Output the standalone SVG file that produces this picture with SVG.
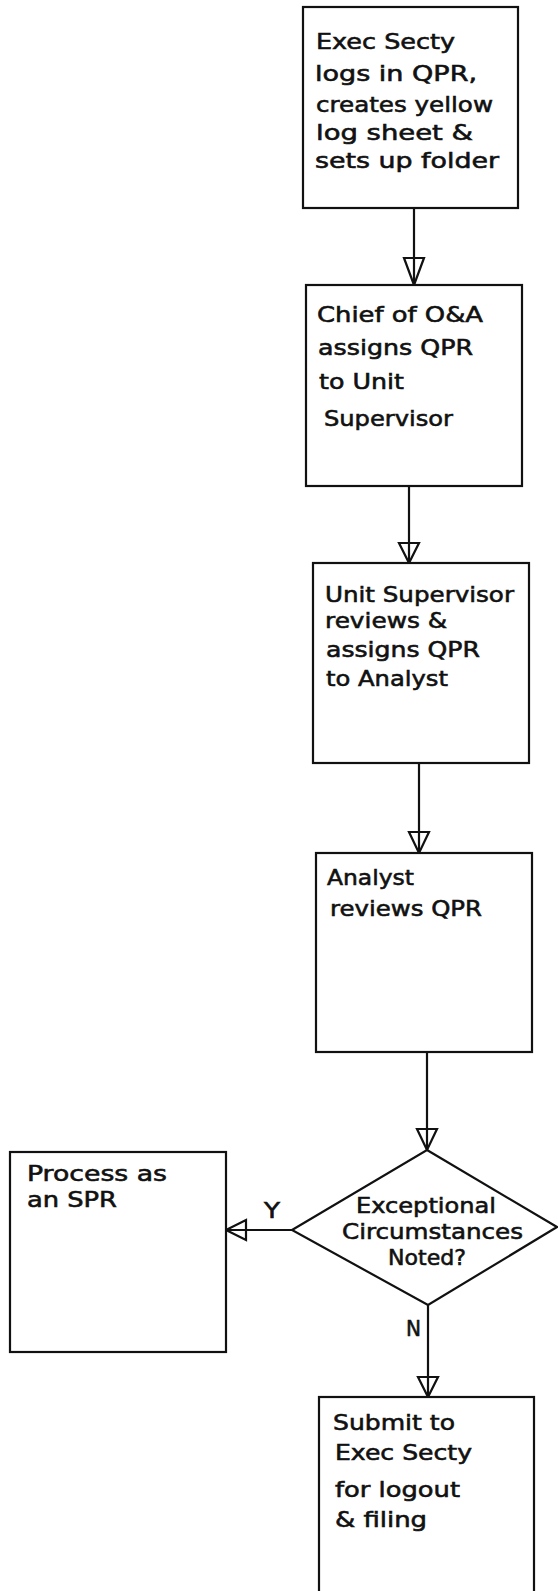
<svg xmlns="http://www.w3.org/2000/svg" width="558" height="1591" viewBox="0 0 558 1591">
  <style>
    .box { fill: #fff; stroke: #111; stroke-width: 2.2; }
    .line { fill: none; stroke: #111; stroke-width: 2.2; }
    .head { fill: none; stroke: #111; stroke-width: 2.2; stroke-linejoin: miter; }
    text { font-family: "DejaVu Sans", "Liberation Sans", sans-serif; font-size: 22px; fill: #111; stroke: #111; stroke-width: 0.6; }
  </style>
  <rect width="558" height="1591" fill="#fff"/>

  <!-- connectors: line runs through to the tip of an open triangle head -->
  <g id="connectors">
    <path class="line" d="M414 208 V285"/>
    <path class="head" d="M404 258 H424 L414 285 Z"/>

    <path class="line" d="M409 486 V563"/>
    <path class="head" d="M399 543 H419 L409 563 Z"/>

    <path class="line" d="M419 763 V853"/>
    <path class="head" d="M409 832 H429 L419 853 Z"/>

    <path class="line" d="M427 1052 V1150"/>
    <path class="head" d="M417 1129 H437 L427 1150 Z"/>

    <path class="line" d="M292 1230 H226"/>
    <path class="head" d="M246 1220 V1240 L226 1230 Z"/>

    <path class="line" d="M428 1305 V1397"/>
    <path class="head" d="M418 1377 H438 L428 1397 Z"/>

    <text x="264" y="1218" textLength="16" lengthAdjust="spacingAndGlyphs">Y</text>
    <text x="406" y="1336" textLength="15" lengthAdjust="spacingAndGlyphs">N</text>
  </g>

  <g id="log-in">
    <rect class="box" x="303" y="7" width="215" height="201"/>
    <text x="316" y="49" textLength="139" lengthAdjust="spacingAndGlyphs">Exec Secty</text>
    <text x="315" y="81" textLength="162" lengthAdjust="spacingAndGlyphs">logs in QPR,</text>
    <text x="316" y="112" textLength="177" lengthAdjust="spacingAndGlyphs">creates yellow</text>
    <text x="316" y="140" textLength="157" lengthAdjust="spacingAndGlyphs">log sheet &amp;</text>
    <text x="315" y="168" textLength="184" lengthAdjust="spacingAndGlyphs">sets up folder</text>
  </g>

  <g id="chief-assigns">
    <rect class="box" x="306" y="285" width="216" height="201"/>
    <text x="317" y="322" textLength="166" lengthAdjust="spacingAndGlyphs">Chief of O&amp;A</text>
    <text x="318" y="355" textLength="155" lengthAdjust="spacingAndGlyphs">assigns QPR</text>
    <text x="319" y="389" textLength="85" lengthAdjust="spacingAndGlyphs">to Unit</text>
    <text x="324" y="426" textLength="129" lengthAdjust="spacingAndGlyphs">Supervisor</text>
  </g>

  <g id="supervisor-reviews">
    <rect class="box" x="313" y="563" width="216" height="200"/>
    <text x="325" y="602" textLength="189" lengthAdjust="spacingAndGlyphs">Unit Supervisor</text>
    <text x="325" y="628" textLength="122" lengthAdjust="spacingAndGlyphs">reviews &amp;</text>
    <text x="326" y="657" textLength="154" lengthAdjust="spacingAndGlyphs">assigns QPR</text>
    <text x="326" y="686" textLength="122" lengthAdjust="spacingAndGlyphs">to Analyst</text>
  </g>

  <g id="analyst-reviews">
    <rect class="box" x="316" y="853" width="216" height="199"/>
    <text x="327" y="885" textLength="87" lengthAdjust="spacingAndGlyphs">Analyst</text>
    <text x="330" y="916" textLength="152" lengthAdjust="spacingAndGlyphs">reviews QPR</text>
  </g>

  <g id="exceptional-decision">
    <polygon class="box" points="427,1150 557,1227 428,1305 292,1230"/>
    <text x="356" y="1213" textLength="140" lengthAdjust="spacingAndGlyphs">Exceptional</text>
    <text x="342" y="1239" textLength="181" lengthAdjust="spacingAndGlyphs">Circumstances</text>
    <text x="388" y="1265" textLength="78" lengthAdjust="spacingAndGlyphs">Noted?</text>
  </g>

  <g id="process-spr">
    <rect class="box" x="10" y="1152" width="216" height="200"/>
    <text x="27" y="1181" textLength="140" lengthAdjust="spacingAndGlyphs">Process as</text>
    <text x="27" y="1207" textLength="90" lengthAdjust="spacingAndGlyphs">an SPR</text>
  </g>

  <g id="submit-logout">
    <rect class="box" x="319" y="1397" width="215" height="210"/>
    <text x="333" y="1430" textLength="122" lengthAdjust="spacingAndGlyphs">Submit to</text>
    <text x="335" y="1460" textLength="137" lengthAdjust="spacingAndGlyphs">Exec Secty</text>
    <text x="335" y="1497" textLength="125" lengthAdjust="spacingAndGlyphs">for logout</text>
    <text x="335" y="1527" textLength="92" lengthAdjust="spacingAndGlyphs">&amp; filing</text>
  </g>
</svg>
